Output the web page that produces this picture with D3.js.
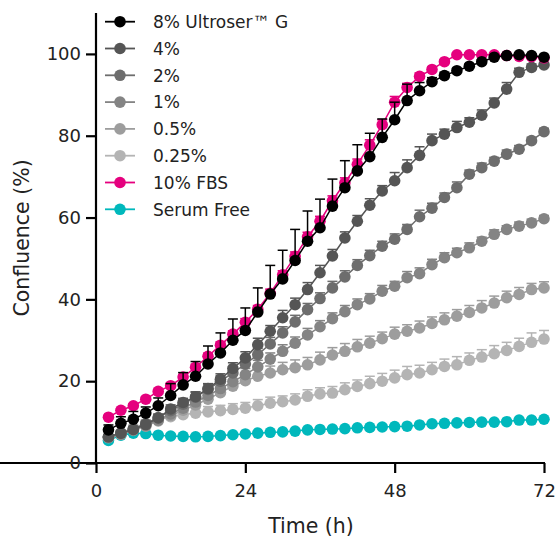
<!DOCTYPE html>
<html><head><meta charset="utf-8">
<script src="https://cdn.jsdelivr.net/npm/d3@7"></script>
<style>html,body{margin:0;padding:0;background:#fff;}svg{display:block;font-family:"DejaVu Sans",sans-serif;}</style>
</head><body>
<svg id="chart" width="558" height="544"></svg>
<script>
const times = [2,4,6,8,10,12,14,16,18,20,22,24,26,28,30,32,34,36,38,40,42,44,46,48,50,52,54,56,58,60,62,64,66,68,70,72];
const seriesNames = ["8% Ultroser\u2122 G","4%","2%","1%","0.5%","0.25%","10% FBS","Serum Free"];
const seriesColors = ["#000000","#555555","#6d6d6d","#848484","#9d9d9d","#b4b4b4","#e5007e","#00b8bc"];
const ultroser8 = [8.1,9.7,10.7,12.2,14.0,16.5,19.1,21.2,24.2,26.9,30.0,32.4,36.9,41.3,45.0,49.5,54.2,57.5,62.8,67.3,71.4,74.9,79.6,83.9,88.6,91.0,93.2,94.7,95.9,97.0,98.1,99.2,99.6,99.8,99.6,99.2];
const ultroser8Err = [1.2,1.6,1.9,1.5,1.9,2.9,3.0,3.6,4.4,4.9,5.2,5.5,5.9,7.0,7.0,7.6,7.4,7.0,6.6,6.6,6.4,5.7,4.5,4.3,4.0,2.0,1.0,0.8,0.6,0.5,0.5,0.4,0.3,0.3,0.3,0.3];
const pct4 = [6.4,7.3,8.2,9.4,11.0,13.2,14.8,16.2,18.2,20.5,23.1,25.7,28.9,32.2,35.5,38.7,42.4,46.5,50.6,55.0,59.1,63.0,66.5,69.0,72.2,75.2,78.8,80.4,82.0,83.3,85.0,88.0,91.4,95.5,96.7,97.3];
const pct4Err = [0.5,0.6,0.6,0.8,0.8,1.0,1.0,1.2,1.2,1.3,1.4,1.5,1.6,1.4,1.8,1.6,1.7,1.8,1.6,1.5,1.4,1.6,1.3,2.0,1.9,2.1,1.6,1.2,1.5,1.1,1.3,1.2,1.6,1.0,0.8,0.6];
const pct2 = [6.4,7.3,8.3,9.6,11.1,12.8,14.4,16.1,18.0,20.0,22.0,24.2,26.5,29.1,31.8,34.5,37.5,40.2,42.8,45.5,48.3,50.7,53.0,54.7,57.1,60.2,62.3,64.9,67.3,70.6,72.2,73.8,75.5,76.7,78.8,81.0];
const pct2Err = [0.5,0.6,0.7,0.8,0.9,1.0,1.1,1.2,1.3,1.3,1.4,1.5,1.5,1.6,1.5,1.6,1.5,1.4,1.6,1.5,1.4,1.3,1.2,1.3,1.2,1.6,1.2,1.1,1.4,1.0,1.1,0.9,1.0,0.9,0.8,0.8];
const pct1 = [6.3,7.1,8.1,9.2,10.5,12.0,13.4,14.9,16.5,18.2,19.9,21.6,23.5,25.4,27.3,29.3,31.3,33.3,35.3,37.0,38.7,40.1,42.0,43.2,45.3,46.3,48.5,50.2,51.4,52.6,54.2,55.9,57.1,57.9,58.7,59.7];
const pct1Err = [0.5,0.6,0.7,0.8,0.9,1.0,1.1,1.2,1.3,1.4,1.5,1.5,1.6,1.5,1.6,1.5,1.6,1.5,1.4,1.5,1.4,1.3,1.4,1.2,1.5,1.4,1.3,1.2,1.1,1.2,1.0,1.1,0.9,1.0,0.9,0.8];
const pct05 = [6.2,7.0,8.0,9.0,10.3,11.6,12.9,14.2,15.6,17.2,18.8,20.1,21.2,22.0,22.8,23.3,24.0,25.2,26.4,27.3,28.4,29.3,30.4,31.5,32.2,33.0,34.1,35.0,35.9,36.8,37.9,39.1,40.4,41.2,42.4,42.8];
const pct05Err = [0.6,0.7,0.8,0.9,1.0,1.1,1.3,1.4,1.5,1.6,1.7,1.7,1.8,1.7,1.8,1.9,1.8,1.9,1.8,1.9,1.8,1.7,1.6,1.7,1.6,1.7,1.6,1.7,1.6,1.7,1.8,1.7,1.6,1.7,1.5,1.5];
const pct025 = [6.3,7.4,8.5,9.7,10.9,11.3,11.8,12.2,12.5,12.8,13.1,13.4,14.0,14.6,15.0,15.4,16.3,16.9,17.1,17.9,18.7,19.4,20.0,20.8,21.6,22.0,22.8,23.6,24.0,25.1,25.9,26.7,27.5,28.5,29.5,30.3];
const pct025Err = [0.6,0.7,0.8,0.9,1.0,1.1,1.2,1.2,1.3,1.3,1.4,1.4,1.5,1.5,1.4,1.5,1.6,1.5,1.6,1.7,1.6,1.8,1.9,1.9,2.0,1.9,1.8,1.8,2.0,1.8,1.8,2.0,2.0,2.0,2.3,2.1];
const fbs10 = [11.2,12.9,14.0,15.6,17.5,18.9,21.0,23.4,26.1,28.8,31.5,34.4,37.6,41.5,46.0,50.5,55.3,59.1,64.1,68.5,73.0,77.7,82.7,88.2,91.8,94.5,96.2,98.1,99.8,99.8,99.8,99.8,99.6,99.4,99.3,99.0];
const fbs10Err = [0.4,0.4,0.5,0.5,0.5,0.6,0.6,0.7,0.7,0.8,0.8,0.9,0.9,1.0,1.0,1.1,1.1,1.2,1.2,1.2,1.3,1.3,1.2,1.4,1.0,0.8,0.6,0.5,0.4,0.4,0.4,0.4,0.3,0.3,0.3,0.3];
const serumFree = [5.5,6.8,7.3,7.2,6.8,6.6,6.5,6.4,6.5,6.7,6.9,7.1,7.3,7.5,7.6,7.8,8.1,8.2,8.3,8.4,8.6,8.7,8.8,8.9,9.0,9.3,9.6,9.7,9.8,9.9,10.0,10.0,10.1,10.5,10.5,10.7];
const xTicks = [0,24,48,72];
const yTicks = [0,20,40,60,80,100];

const seriesValues = [ultroser8,pct4,pct2,pct1,pct05,pct025,fbs10,serumFree];
const seriesErrors = [ultroser8Err,pct4Err,pct2Err,pct1Err,pct05Err,pct025Err,fbs10Err,null];
const drawOrder = [7,5,4,3,2,1,6,0];

const svg = d3.select("#chart");
const x = d3.scaleLinear().domain([0,72]).range([96,544]);
const y = d3.scaleLinear().domain([0,110]).range([463,13]);

const line = d3.line().x(d=>x(d.t)).y(d=>y(d.v));
drawOrder.forEach(i=>{
  const col = seriesColors[i];
  const pts = times.map((t,k)=>({t, v: seriesValues[i][k], e: seriesErrors[i] ? seriesErrors[i][k] : 0}));
  const g = svg.append("g");
  if (seriesErrors[i]) {
    const eb = g.append("g").attr("stroke", col).attr("stroke-width", 1.5).attr("fill","none");
    pts.forEach(p=>{
      eb.append("line").attr("x1", x(p.t)).attr("x2", x(p.t)).attr("y1", y(p.v)).attr("y2", y(p.v+p.e));
      eb.append("line").attr("x1", x(p.t)-5).attr("x2", x(p.t)+5).attr("y1", y(p.v+p.e)).attr("y2", y(p.v+p.e));
    });
  }
  g.append("path").datum(pts).attr("d", line).attr("fill","none").attr("stroke", col).attr("stroke-width", 1.5);
  g.selectAll("circle").data(pts).join("circle")
    .attr("cx", d=>x(d.t)).attr("cy", d=>y(d.v)).attr("r", 5.8).attr("fill", col);
});

const xAxis = svg.append("g").attr("transform","translate(0,463)")
  .call(d3.axisBottom(x).tickValues(xTicks).tickSize(10).tickPadding(11).tickSizeOuter(0));
const yAxis = svg.append("g").attr("transform","translate(96,0)")
  .call(d3.axisLeft(y).tickValues(yTicks).tickSize(10).tickPadding(5).tickSizeOuter(0));
[xAxis,yAxis].forEach(a=>{
  a.select(".domain").attr("stroke","#000").attr("stroke-width",2.2);
  a.selectAll(".tick line").attr("stroke","#000").attr("stroke-width",2.2);
  a.selectAll(".tick text").attr("font-size",18).attr("fill","#222").attr("font-family","DejaVu Sans");
});
yAxis.select(".domain").attr("d","M0,13V463");
xAxis.select(".domain").attr("d","M-1,0H545");

svg.append("text").attr("x",311).attr("y",533).attr("text-anchor","middle")
  .attr("font-size",20.5).attr("fill","#222").text("Time (h)");
svg.append("text").attr("transform","translate(29,238) rotate(-90)").attr("text-anchor","middle")
  .attr("font-size",20.5).attr("fill","#222").text("Confluence (%)");

const legend = svg.append("g");
seriesNames.forEach((name,i)=>{
  const cy = 21.7 + i*26.8;
  legend.append("line").attr("x1",105).attr("x2",135).attr("y1",cy).attr("y2",cy)
    .attr("stroke",seriesColors[i]).attr("stroke-width",1.8);
  legend.append("circle").attr("cx",120).attr("cy",cy).attr("r",5.8).attr("fill",seriesColors[i]);
  legend.append("text").attr("x",153).attr("y",cy+6.3).attr("font-size",17).attr("fill","#222").text(name);
});
</script>
</body></html>
